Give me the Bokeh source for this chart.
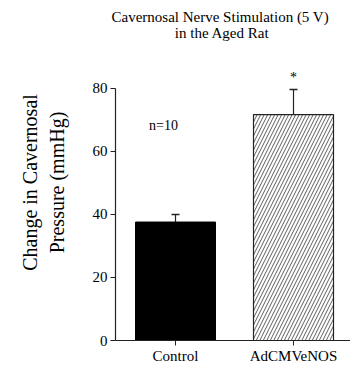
from bokeh.plotting import figure
from bokeh.models import ColumnDataSource, FixedTicker, Label, Whisker, TeeHead, Title
from bokeh.embed import file_html
from bokeh.resources import INLINE

# ---- data ----
groups = ["Control", "AdCMVeNOS"]
group_pos = [1, 2]
means = [37.6, 71.7]
sems = [2.4, 8.0]
y_ticks = [0, 20, 40, 60, 80]
n_label = "n=10"
sig_mark = "*"
title_lines = ["Cavernosal Nerve Stimulation (5 V)", "in the Aged Rat"]
ylabel_text = "Change in Cavernosal\nPressure (mmHg)"

FONT = "Liberation Serif"

p = figure(width=350, height=366, x_range=(0.4915, 2.483), y_range=(0, 100.3),
           output_backend="svg", toolbar_location=None,
           min_border_left=115, min_border_right=0, min_border_top=24,
           min_border_bottom=26)
p.outline_line_color = None
p.xgrid.visible = False
p.ygrid.visible = False
p.background_fill_color = "white"
p.border_fill_color = "white"

src_c = ColumnDataSource(dict(x=group_pos[:1], top=means[:1],
                              upper=[means[0] + sems[0]]))
src_a = ColumnDataSource(dict(x=group_pos[1:], top=means[1:],
                              upper=[means[1] + sems[1]]))

p.vbar(x="x", top="top", width=0.678, source=src_c, fill_color="black",
       line_color="black", line_width=1)
p.vbar(x="x", top="top", width=0.678, source=src_a, fill_color="white",
       line_color="#222222", line_width=1.2, hatch_pattern="/",
       hatch_color="#333333", hatch_scale=7, hatch_weight=0.8)

for s in (src_c, src_a):
    w = Whisker(base="x", lower="top", upper="upper", source=s,
                line_color="#222222", line_width=1.2, lower_head=None,
                upper_head=TeeHead(size=8, line_color="#222222", line_width=1.5))
    p.add_layout(w)

# axes
p.xaxis.ticker = FixedTicker(ticks=group_pos)
p.xaxis.major_label_overrides = {pos: g for pos, g in zip(group_pos, groups)}
p.yaxis.ticker = FixedTicker(ticks=y_ticks)
p.yaxis.bounds = (y_ticks[0], y_ticks[-1])
for ax in (p.xaxis, p.yaxis):
    ax.axis_line_color = "#222222"
    ax.axis_line_width = 1.2
    ax.major_tick_line_color = "#222222"
    ax.major_tick_in = 0
    ax.major_tick_out = 5
    ax.minor_tick_line_color = None
    ax.major_label_text_font = FONT
    ax.major_label_text_color = "black"
p.xaxis.major_label_text_font_size = "15px"
p.xaxis.major_label_standoff = 2
p.yaxis.major_label_text_font_size = "15px"
p.yaxis.major_label_standoff = 3
p.yaxis.axis_label = ylabel_text
p.yaxis.axis_label_text_font = FONT
p.yaxis.axis_label_text_font_size = "20px"
p.yaxis.axis_label_text_font_style = "normal"
p.yaxis.axis_label_text_color = "black"
p.yaxis.axis_label_standoff = 22

# title line 1 (above the frame)
t1 = Title(text=title_lines[0], align="left", offset=-4, standoff=0,
           text_font=FONT, text_font_size="15px", text_font_style="normal",
           text_color="black")
p.add_layout(t1, "above")

# annotations inside the frame
def add_label(x, y, text, size):
    p.add_layout(Label(x=x, y=y, text=text, text_font=FONT,
                       text_font_size=size, text_align="center",
                       text_baseline="middle", text_color="black"))

add_label(1.395, 97.46, title_lines[1], "15px")
add_label(0.898, 68.25, n_label, "14px")
add_label(2.0, 83.6, sig_mark, "14px")

open("out.html", "w").write(file_html(p, INLINE))
